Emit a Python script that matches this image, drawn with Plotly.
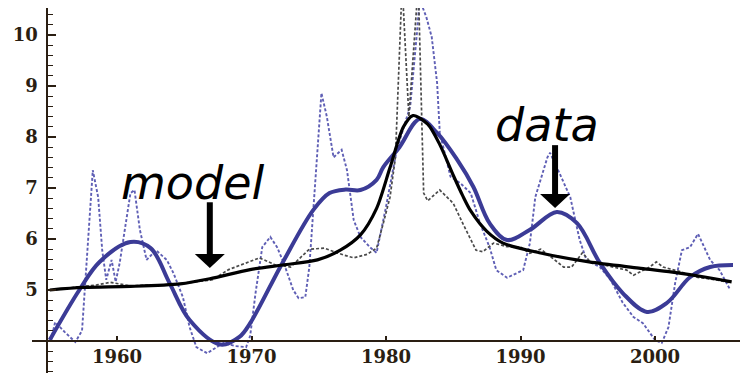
import plotly.graph_objects as go

# ---------------- data ----------------
data_years = [1955.1, 1955.4, 1956.1, 1956.9, 1957.4, 1958.2, 1958.6, 1958.9, 1959.2, 1959.6,
              1959.9, 1960.2, 1961.0, 1961.3, 1961.7, 1962.2, 1962.9, 1963.7, 1964.2, 1964.9,
              1965.4, 1965.9, 1966.7, 1967.4, 1967.9, 1968.8, 1969.6, 1969.9, 1970.3, 1970.8,
              1971.4, 1971.9, 1972.4, 1973.1, 1973.5, 1974.0, 1974.3, 1975.2, 1975.6, 1976.1,
              1976.7, 1977.1, 1977.6, 1978.1, 1978.8, 1979.3, 1980.0, 1980.8, 1981.8, 1982.3,
              1982.5, 1983.0, 1983.4, 1983.8, 1984.0, 1984.8, 1985.5, 1986.3, 1987.0, 1987.7,
              1988.2, 1989.0, 1990.2, 1990.7, 1991.1, 1992.0, 1992.2, 1992.9, 1993.7, 1994.4,
              1994.9, 1995.9, 1996.7, 1997.6, 1998.4, 1999.1, 2000.0, 2000.5, 2001.0, 2001.5,
              2002.0, 2002.6, 2003.2, 2004.1, 2004.8, 2005.6]
data_values = [4.02, 4.37, 4.18, 3.98, 4.20, 7.35, 6.82, 5.78, 5.20, 5.59,
               5.16, 5.53, 6.90, 6.96, 6.18, 5.59, 5.78, 5.59, 5.33, 4.86,
               4.27, 3.88, 3.76, 3.88, 3.96, 3.90, 3.88, 4.10, 4.94, 5.84,
               6.04, 5.84, 5.53, 5.00, 4.84, 4.86, 5.45, 8.86, 8.40, 7.60,
               7.75, 7.35, 6.37, 6.04, 5.84, 5.73, 6.63, 7.75, 8.60, 10.04,
               10.70, 10.35, 9.96, 9.06, 8.08, 7.22, 7.10, 6.90, 6.30, 5.84,
               5.39, 5.24, 5.39, 5.92, 6.82, 7.60, 7.69, 7.29, 6.82, 5.98,
               5.59, 5.45, 5.20, 4.75, 4.47, 4.35, 4.02, 3.96, 4.27, 5.14,
               5.78, 5.84, 6.10, 5.59, 5.39, 5.00]

data2_years = [1955.1, 1957.0, 1958.5, 1959.5, 1961.0, 1962.5, 1964.0, 1965.5, 1967.1, 1968.3,
               1969.6, 1970.6, 1971.7, 1972.9, 1974.3, 1975.4, 1976.8, 1977.6, 1978.6, 1979.3,
               1979.8, 1980.3, 1980.7, 1981.2, 1981.7, 1982.4, 1982.8, 1983.1, 1984.0, 1985.0,
               1985.7, 1986.7, 1987.2, 1988.0, 1989.0, 1990.0, 1990.7, 1991.5, 1992.5, 1993.2,
               1993.8, 1994.6, 1995.2, 1996.0, 1997.9, 1998.4, 1999.6, 2000.1, 2000.6, 2002.0,
               2003.1, 2004.5, 2005.5]
data2_values = [5.00, 5.05, 5.10, 5.15, 5.08, 5.10, 5.10, 5.15, 5.20, 5.40,
                5.53, 5.63, 5.50, 5.45, 5.80, 5.82, 5.69, 5.63, 5.70, 5.82,
                6.31, 6.82, 7.60, 11.00, 8.40, 11.00, 6.90, 6.75, 6.96, 6.70,
                6.31, 5.78, 5.75, 5.92, 5.85, 5.84, 5.72, 5.80, 5.60, 5.45,
                5.45, 5.73, 5.55, 5.50, 5.39, 5.29, 5.45, 5.55, 5.45, 5.35,
                5.25, 5.20, 5.15]

fit_years = [1955.0, 1957.2, 1958.7, 1961.0, 1962.5, 1963.9, 1965.4, 1967.7, 1969.1, 1969.9,
             1972.3, 1974.6, 1975.8, 1977.0, 1978.1, 1979.3, 1979.8, 1981.0, 1982.5, 1983.8,
             1985.3, 1986.5, 1987.7, 1989.0, 1990.7, 1992.7, 1994.2, 1995.9, 1997.6, 1999.4,
             2000.9, 2002.6, 2004.1, 2005.8]
fit_values = [4.02, 5.00, 5.55, 5.94, 5.82, 5.14, 4.41, 3.93, 4.08, 4.35,
              5.53, 6.57, 6.90, 6.97, 6.96, 7.16, 7.41, 7.80, 8.35, 8.08,
              7.55, 7.02, 6.31, 5.98, 6.18, 6.53, 6.31, 5.53, 4.94, 4.57,
              4.75, 5.25, 5.45, 5.49]

model_years = [1955.0, 1957.5, 1961.0, 1964.7, 1966.9, 1969.9, 1972.3, 1974.9, 1976.6, 1978.1,
               1979.3, 1980.3, 1981.3, 1982.0, 1983.1, 1984.0, 1985.0, 1985.7, 1986.3, 1987.5,
               1988.7, 1991.4, 1995.1, 1998.8, 2001.3, 2003.8, 2005.7]
model_values = [5.00, 5.05, 5.07, 5.12, 5.22, 5.40, 5.49, 5.59, 5.78, 6.08,
                6.60, 7.40, 8.20, 8.42, 8.25, 7.85, 7.25, 6.85, 6.55, 6.15,
                5.92, 5.73, 5.55, 5.43, 5.35, 5.25, 5.16]

x_ticks = [1960, 1970, 1980, 1990, 2000]
y_ticks = [5, 6, 7, 8, 9, 10]

labels = ["model", "data"]
label_pos = [(1965.6, 7.1), (1992.0, 8.24)]
arrow_pos = [(1966.9, 6.72, 5.43), (1992.57, 7.84, 6.61)]  # x, top, tip

# ---------------- layout geometry ----------------
W, H = 740, 373
ML, MR, MT, MB = 32, 0, 8, 0
x_min, x_max = 1953.68, 2006.32
y_min, y_max = 3.3725, 10.529
axis_x = 1954.8   # where the vertical axis crosses
axis_y = 4.0      # where the horizontal axis crosses

px_per_x = (W - ML - MR) / (x_max - x_min)
px_per_y = (H - MT - MB) / (y_max - y_min)

ink = "#2a1e12"
blue = "#3b3b96"
blue_dash = "#5f5fb5"

fig = go.Figure()
fig.add_trace(go.Scatter(x=data_years, y=data_values, mode="lines",
                         line=dict(color=blue_dash, width=1.9, dash="3px,2px")))
fig.add_trace(go.Scatter(x=data2_years, y=data2_values, mode="lines",
                         line=dict(color="#4a4a4a", width=1.7, dash="3px,2px")))
fig.add_trace(go.Scatter(x=fit_years, y=fit_values, mode="lines",
                         line=dict(color=blue, width=4, shape="spline", smoothing=1.0)))
fig.add_trace(go.Scatter(x=model_years, y=model_values, mode="lines",
                         line=dict(color="black", width=3.2, shape="spline", smoothing=0.8)))

shapes = []
head_hw = 15 / px_per_x
head_h = 14 / px_per_y
for (ax, top, tip) in arrow_pos:
    shapes.append(dict(type="line", x0=ax, x1=ax, y0=top, y1=tip + head_h * 0.8,
                       line=dict(color="black", width=6)))
    shapes.append(dict(type="path",
                       path=f"M {ax - head_hw},{tip + head_h} L {ax + head_hw},{tip + head_h} L {ax},{tip} Z",
                       fillcolor="black", line=dict(color="black", width=0)))

annotations = []
for txt, (tx, ty) in zip(labels, label_pos):
    annotations.append(dict(x=tx, y=ty, text=txt, showarrow=False, xanchor="center", yanchor="middle",
                            font=dict(family="DejaVu Sans", size=46, color="black", style="italic")))

fig.update_layout(
    width=W, height=H, margin=dict(l=ML, r=MR, t=MT, b=MB, autoexpand=False),
    paper_bgcolor="white", plot_bgcolor="white", showlegend=False,
    shapes=shapes, annotations=annotations,
    xaxis=dict(range=[x_min, x_max], anchor="free", automargin=False,
               position=(axis_y - y_min) / (y_max - y_min),
               showgrid=False, zeroline=False, showline=True, linecolor=ink, linewidth=1.5,
               tickmode="array", tickvals=x_ticks, ticktext=[str(v) for v in x_ticks],
               ticks="inside", ticklen=4, tickwidth=1.5, tickcolor=ink,
               tickfont=dict(family="DejaVu Serif", size=18, color=ink, weight="bold")),
    yaxis=dict(range=[y_min, y_max], anchor="free", automargin=False,
               position=(axis_x - x_min) / (x_max - x_min),
               showgrid=False, zeroline=False, showline=True, linecolor=ink, linewidth=1.5,
               tickmode="array", tickvals=y_ticks, ticktext=[str(v) for v in y_ticks],
               ticks="inside", ticklen=8, tickwidth=1.5, tickcolor=ink, ticklabelstandoff=5,
               minor=dict(tickmode="linear", tick0=0, dtick=0.2, ticks="inside", ticklen=5,
                          tickwidth=1.2, tickcolor=ink),
               tickfont=dict(family="DejaVu Serif", size=18, color=ink, weight="bold")),
)

fig.write_html("out.html", config={"displayModeBar": False},
               post_script="document.body.style.margin='0';document.body.style.overflow='hidden';")
